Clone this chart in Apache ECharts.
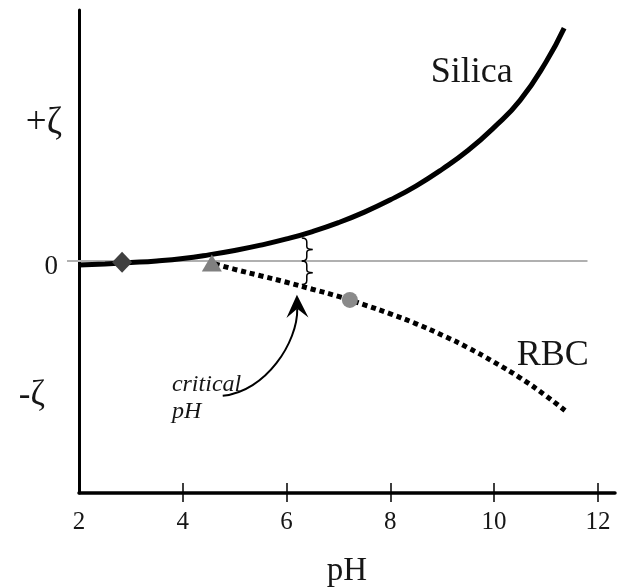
<!DOCTYPE html>
<html>
<head>
<meta charset="utf-8">
<script src="https://cdn.jsdelivr.net/npm/echarts@6/dist/echarts.min.js"></script>
<style>html,body{margin:0;padding:0;background:#fff}#c{width:619px;height:588px}</style>
</head>
<body>
<div id="c"></div>
<script>
// ---- data ----
const pHTicks = [2, 4, 6, 8, 10, 12];
const pHTickMarks = [4, 6, 8, 10, 12];
const zetaTicks = [-1, 0, 1];
const zetaLabels = ['-ζ', '0', '+ζ'];

const silicaPH   = [2.0, 2.5, 3.0, 3.5, 4.0, 4.5, 5.0, 5.5, 6.0, 6.5, 7.0, 7.5, 8.0, 8.5, 9.0, 9.5, 10.0, 10.5, 11.0, 11.35];
const silicaZeta = [-0.03, -0.022, -0.012, 0.0, 0.018, 0.045, 0.078, 0.117, 0.163, 0.218, 0.284, 0.362, 0.453, 0.557, 0.68, 0.82, 0.99, 1.19, 1.475, 1.726];

const rbcPH   = [4.62, 5.0, 5.5, 6.0, 6.5, 7.0, 7.5, 8.0, 8.5, 9.0, 9.5, 10.0, 10.5, 11.0, 11.4];
const rbcZeta = [-0.022, -0.062, -0.11, -0.158, -0.21, -0.263, -0.325, -0.392, -0.466, -0.55, -0.644, -0.75, -0.866, -1.0, -1.119];

const diamondPt  = [2.83, -0.01];
const trianglePt = [4.56, -0.015];
const circlePt   = [7.22, -0.289];

const zeroLine = [[2, 0], [11.8, 0]];

// braces: [pH, upper zeta, lower zeta]
const braces = [[6.39, 0.17, 0], [6.39, 0, -0.175]];
// curved arrow: tail, control 1, control 2, tip
const arrowPts = [[4.77, -1.0], [5.6, -0.97], [6.22, -0.6], [6.2, -0.25]];

// text annotations: [pH, zeta, text]
const silicaLabel = [9.57, 1.40, 'Silica'];
const rbcLabel = [11.13, -0.70, 'RBC'];
const criticalLabel = [3.79, -0.92, 'critical'];
const criticalPHLabel = [3.79, -1.12, 'pH'];

const FONT = 'Liberation Serif';

const chart = echarts.init(document.getElementById('c'));

function zip(a, b) { return a.map((v, i) => [v, b[i]]); }

function textSeries(item, size, italic, align) {
  return {
    type: 'custom', silent: true, z: 10,
    data: [[item[0], item[1]]],
    renderItem: function (params, api) {
      const p = api.coord([api.value(0), api.value(1)]);
      return {
        type: 'text', x: p[0], y: p[1],
        style: {
          text: item[2], fontFamily: FONT, fontSize: size,
          fontStyle: italic ? 'italic' : 'normal',
          fill: '#161616', align: align || 'center', verticalAlign: 'middle'
        }
      };
    }
  };
}

chart.setOption({
  animation: false,
  backgroundColor: '#fff',
  grid: { left: 79, right: 4, top: 10, bottom: 95, containLabel: false, outerBoundsMode: 'none' },
  xAxis: [{
    type: 'value', min: 2, max: 12.33,
    name: 'pH', nameLocation: 'middle', nameGap: 62,
    nameTextStyle: { fontFamily: FONT, fontSize: 33, color: '#161616' },
    axisLine: { show: true, onZero: false, lineStyle: { color: '#000', width: 3.5 } },
    axisTick: { show: true, customValues: pHTickMarks, length: 9, lineStyle: { color: '#000', width: 1.5 } },
    axisLabel: { customValues: pHTicks, fontFamily: FONT, fontSize: 25, color: '#161616', margin: 17 },
    splitLine: { show: false }
  }, {
    type: 'value', min: 2, max: 12.33, position: 'bottom',
    axisLine: { show: false, onZero: false },
    axisTick: { show: true, inside: true, customValues: pHTickMarks, length: 10, lineStyle: { color: '#000', width: 1.5 } },
    axisLabel: { show: false },
    splitLine: { show: false }
  }],
  yAxis: {
    type: 'value', min: -1.72, max: 1.86,
    axisLine: { show: true, onZero: false, lineStyle: { color: '#000', width: 3 } },
    axisTick: { show: true, customValues: [0], length: 12, lineStyle: { color: '#b0b0b0', width: 2 } },
    axisLabel: {
      customValues: zetaTicks, fontFamily: FONT, fontSize: 28, color: '#161616', margin: 17,
      formatter: v => {
        const i = zetaTicks.indexOf(v);
        return '{' + ['m', 'z', 'p'][i] + '|' + zetaLabels[i] + '}';
      },
      rich: {
        p: { fontFamily: FONT, fontSize: 37, color: '#161616', padding: [0, 0, 6, 0] },
        z: { fontFamily: FONT, fontSize: 27, color: '#161616', padding: [12, 4, 0, 0] },
        m: { fontFamily: FONT, fontSize: 35, color: '#161616', padding: [0, 17, 0, 0] }
      }
    },
    splitLine: { show: false }
  },
  series: [
    {
      type: 'line', data: zeroLine, symbol: 'none', silent: true, z: 1,
      lineStyle: { color: '#b0b0b0', width: 2 }
    },
    {
      type: 'line', data: zip(rbcPH, rbcZeta), symbol: 'none', smooth: 0.5, z: 2,
      lineStyle: { color: '#000', width: 5, type: [5, 4], cap: 'butt' }
    },
    {
      type: 'line', data: zip(silicaPH, silicaZeta), symbol: 'none', smooth: 0.5, z: 3,
      lineStyle: { color: '#000', width: 5 }
    },
    {
      type: 'scatter', data: [diamondPt], symbol: 'diamond', symbolSize: [20, 21], z: 5,
      itemStyle: { color: '#404040', opacity: 1 }
    },
    {
      type: 'scatter', data: [trianglePt], symbol: 'triangle', symbolSize: [20, 17], z: 5,
      itemStyle: { color: '#808080', opacity: 1 }
    },
    {
      type: 'scatter', data: [circlePt], symbol: 'circle', symbolSize: 16, z: 5,
      itemStyle: { color: '#8a8a8a', opacity: 1 }
    },
    {
      type: 'custom', z: 6, silent: true,
      data: braces,
      renderItem: function (params, api) {
        const top = api.coord([api.value(0), api.value(1)]);
        const bot = api.coord([api.value(0), api.value(2)]);
        const x = top[0], y1 = top[1], y2 = bot[1], mid = (y1 + y2) / 2;
        const d = 'M' + (x - 5) + ' ' + y1 + ' Q' + x + ' ' + y1 + ' ' + x + ' ' + (y1 + 4) +
          ' L' + x + ' ' + (mid - 3) + ' Q' + x + ' ' + mid + ' ' + (x + 6) + ' ' + mid +
          ' Q' + x + ' ' + mid + ' ' + x + ' ' + (mid + 3) +
          ' L' + x + ' ' + (y2 - 4) + ' Q' + x + ' ' + y2 + ' ' + (x - 5) + ' ' + y2;
        return { type: 'path', shape: { pathData: d }, style: { fill: null, stroke: '#000', lineWidth: 1.5 } };
      }
    },
    {
      type: 'custom', z: 6, silent: true,
      data: [0],
      renderItem: function (params, api) {
        const p = arrowPts.map(a => api.coord(a));
        const tip = p[3], c2 = p[2];
        const ang = Math.atan2(tip[1] - c2[1], tip[0] - c2[0]);
        const L = 23, W = 11, N = 9;
        const ux = Math.cos(ang), uy = Math.sin(ang), nx = -uy, ny = ux;
        const bx = tip[0] - ux * L, by = tip[1] - uy * L;
        const notch = [tip[0] - ux * (L - N), tip[1] - uy * (L - N)];
        const head = 'M' + tip[0] + ' ' + tip[1] +
          ' L' + (bx + nx * W) + ' ' + (by + ny * W) +
          ' L' + notch[0] + ' ' + notch[1] +
          ' L' + (bx - nx * W) + ' ' + (by - ny * W) + ' Z';
        const shaft = 'M' + p[0][0] + ' ' + p[0][1] + ' C' + p[1][0] + ' ' + p[1][1] + ' ' +
          c2[0] + ' ' + c2[1] + ' ' + notch[0] + ' ' + notch[1];
        return {
          type: 'group', children: [
            { type: 'path', shape: { pathData: shaft }, style: { fill: null, stroke: '#000', lineWidth: 2 } },
            { type: 'path', shape: { pathData: head }, style: { fill: '#000', stroke: null } }
          ]
        };
      }
    },
    textSeries(silicaLabel, 36, false),
    textSeries(rbcLabel, 36, false),
    textSeries(criticalLabel, 24, true, 'left'),
    textSeries(criticalPHLabel, 24, true, 'left')
  ]
});
</script>
</body>
</html>
